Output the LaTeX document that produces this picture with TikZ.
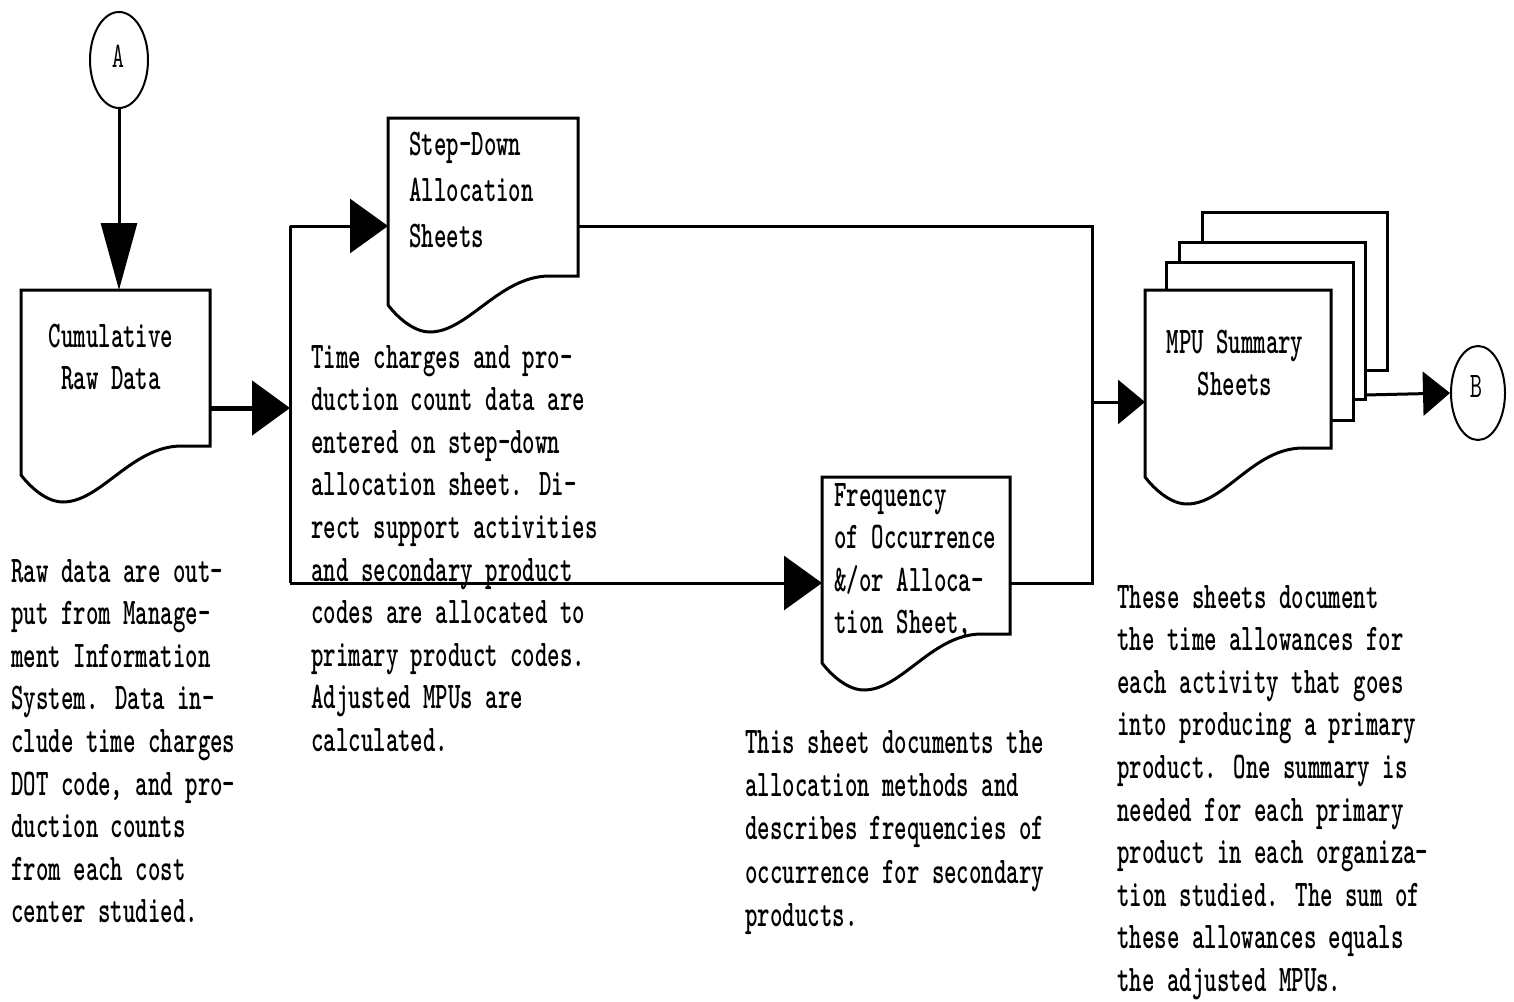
\documentclass[tikz,border=0pt]{standalone}
\usepackage{graphicx}
\usetikzlibrary{arrows.meta,shapes.geometric}

% narrow printer-style text block: #1 column alignment, #2 lines
\newcommand\prn[2][l]{\scalebox{0.63}[1]{\fontsize{37.6}{42.6}\selectfont\ttfamily\bfseries\begin{tabular}[t]{@{}#1@{}}#2\end{tabular}}}
\newcommand\prnsmall[1]{\scalebox{0.66}[1]{\fontsize{36}{38}\selectfont\ttfamily #1}}

% document symbol: #1 xl, #2 top, #3 xr, #4 y of right bottom corner
\newcommand\docsheet[4]{%
  \draw[fill=white] (#1,#2) -- (#3,#2) -- (#3,#4) -- ({#1+0.85*(#3-#1)},#4)
    .. controls ({#1+0.85*(#3-#1)-50},#4) and (#1+80,#4+56) .. (#1+42,#4+56)
    .. controls (#1+26,#4+56) and (#1+10,#4+42) .. (#1,#4+29) -- cycle;}

\begin{document}
\begin{tikzpicture}[x=1pt,y=-1pt,line width=3pt,
  txt/.style={inner sep=0pt,anchor=base west},
  ctxt/.style={inner sep=0pt,anchor=base},
  connector/.style={ellipse,draw,line width=2pt,minimum width=58pt,minimum height=96pt,inner sep=0pt},
  tipbig/.style={-{Triangle[length=67pt,width=36pt]}},
  tipmid/.style={-{Triangle[length=38pt,width=54pt]}},
  tipsmall/.style={-{Triangle[length=27pt,width=44pt]}}]
\useasboundingbox (0,0) rectangle (1514,1001);

% off-page connectors
\node[connector] (A) at (119,60) {};
\node[ctxt] (Alab) at (118,67) {\prnsmall{A}};
\node[connector,minimum width=54pt,minimum height=94pt] (B) at (1478,393) {};
\node[ctxt] (Blab) at (1476,397) {\prnsmall{B}};

% documents
\docsheet{21}{290}{210}{446}
\docsheet{388}{118}{578}{276}
\docsheet{822}{477}{1010}{634}

% stack of summary sheets, back to front
\draw[fill=white] (1202,212) rectangle (1387,370);
\draw[fill=white] (1179,242) rectangle (1365,399);
\draw[fill=white] (1166,262) rectangle (1353,420);
\docsheet{1145}{290}{1331}{448}

% labels inside the documents
\node[ctxt] (cumlab) at (111,347) {\prn[c]{Cumulative\\Raw Data}};
\node[txt] (sdlab) at (408,155) {\prn{Step-Down\\[3.4pt]Allocation\\[3.4pt]Sheets}};
\node[txt] (fqlab) at (833,506) {\prn{Frequency\\of Occurrence\\\&/or Alloca-\\tion Sheet,}};
\node[ctxt] (mpulab) at (1235,353) {\prn[c]{MPU Summary\\Sheets}};

% connection points
\coordinate (cumin) at (119,290);
\coordinate (cumout) at (210,408);
\coordinate (split) at (290,408);
\coordinate (splittop) at (290,226);
\coordinate (splitbot) at (290,583);
\coordinate (sdin) at (388,226);
\coordinate (sdout) at (578,226);
\coordinate (fqin) at (822,583);
\coordinate (fqout) at (1010,583);
\coordinate (mergetop) at (1092,226);
\coordinate (mergebot) at (1092,583);
\coordinate (mergemid) at (1092,402);
\coordinate (mpuin) at (1145,402);
\coordinate (stackout) at (1365,395);

% flow lines
\draw[tipbig] (A.south) -- (cumin);
\draw[tipmid,line width=5pt] (cumout) -- (split);
\draw (splittop) -- (splitbot);
\draw[tipmid] (splittop) -- (sdin);
\draw[tipmid] (splitbot) -- (fqin);
\draw (sdout) -- (mergetop) -- (mergebot) -- (fqout);
\draw[tipsmall] (mergemid) -- (mpuin);
\draw[tipsmall] (stackout) -- (B.west);

% descriptions
\node[txt] (rawtxt) at (10,582) {\prn{Raw data are out-\\put from Manage-\\ment Information\\System. Data in-\\clude time charges\\DOT code, and pro-\\duction counts\\from each cost\\center studied.}};
\node[txt] (sdtxt) at (310,368) {\prn{Time charges and pro-\\duction count data are\\entered on step-down\\allocation sheet. Di-\\rect support activities\\and secondary product\\codes are allocated to\\primary product codes.\\Adjusted MPUs are\\calculated.}};
\node[txt] (fqtxt) at (744,753) {\prn{This sheet documents the\\[0.8pt]allocation methods and\\[0.8pt]describes frequencies of\\[0.8pt]occurrence for secondary\\[0.8pt]products.}};
\node[txt] (mputxt) at (1116,608) {\prn{These sheets document\\the time allowances for\\each activity that goes\\into producing a primary\\product. One summary is\\needed for each primary\\product in each organiza-\\tion studied. The sum of\\these allowances equals\\the adjusted MPUs.}};
\end{tikzpicture}
\end{document}
